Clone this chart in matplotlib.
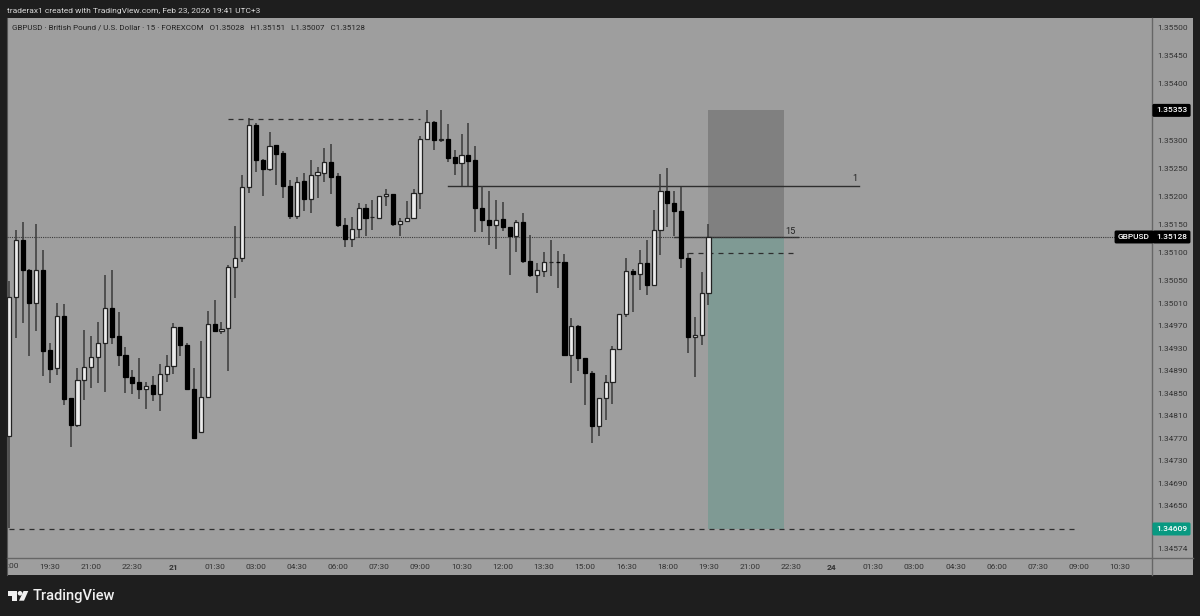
import matplotlib
matplotlib.use('Agg')
import matplotlib.pyplot as plt
from matplotlib.patches import Rectangle, Polygon, Circle

plt.rcParams['font.family'] = ['Roboto', 'DejaVu Sans']

# 15 minute candles
opens = [1.34774, 1.35022, 1.35123, 1.35069, 1.35010, 1.35069, 1.34927, 1.34895, 1.34987, 1.34841,
         1.34793, 1.34873, 1.34897, 1.34914, 1.34939, 1.35001, 1.34952, 1.34919, 1.34879, 1.34870,
         1.34858, 1.34865, 1.34849, 1.34885, 1.34898, 1.34968, 1.34936, 1.34857, 1.34781, 1.34843,
         1.34974, 1.34960, 1.34966, 1.35075, 1.35091, 1.35216, 1.35327, 1.35265, 1.35248, 1.35291,
         1.35277, 1.35219, 1.35166, 1.35227, 1.35195, 1.35239, 1.35242, 1.35261, 1.35236, 1.35150,
         1.35125, 1.35143, 1.35180, 1.35163, 1.35162, 1.35200, 1.35204, 1.35151, 1.35157, 1.35161,
         1.35206, 1.35302, 1.35333, 1.35301, 1.35302, 1.35270, 1.35260, 1.35274, 1.35264, 1.35179,
         1.35159, 1.35150, 1.35160, 1.35145, 1.35129, 1.35154, 1.35086, 1.35060, 1.35068, 1.35083,
         1.35084, 1.35083, 1.34918, 1.34970, 1.34912, 1.34887, 1.34792, 1.34841, 1.34870, 1.34929,
         1.34991, 1.35068, 1.35062, 1.35081, 1.35043, 1.35140, 1.35210, 1.35188, 1.35174, 1.35090,
         1.34950, 1.34954, 1.35028]
highs = [1.35050, 1.35140, 1.35154, 1.35071, 1.35151, 1.35104, 1.34939, 1.35011, 1.35008, 1.34841,
         1.34896, 1.34962, 1.34952, 1.34976, 1.35060, 1.35069, 1.34995, 1.34932, 1.34892, 1.34913,
         1.34870, 1.34881, 1.34902, 1.34918, 1.34975, 1.34968, 1.34939, 1.34895, 1.34943, 1.34996,
         1.35016, 1.34977, 1.35078, 1.35148, 1.35238, 1.35339, 1.35331, 1.35267, 1.35314, 1.35291,
         1.35281, 1.35229, 1.35234, 1.35242, 1.35264, 1.35252, 1.35286, 1.35293, 1.35241, 1.35161,
         1.35163, 1.35189, 1.35186, 1.35194, 1.35201, 1.35214, 1.35204, 1.35162, 1.35192, 1.35213,
         1.35308, 1.35354, 1.35334, 1.35354, 1.35329, 1.35283, 1.35311, 1.35330, 1.35290, 1.35219,
         1.35209, 1.35194, 1.35191, 1.35145, 1.35158, 1.35170, 1.35132, 1.35081, 1.35102, 1.35123,
         1.35103, 1.35098, 1.34984, 1.34972, 1.34912, 1.34889, 1.34841, 1.34882, 1.34935, 1.34991,
         1.35091, 1.35071, 1.35105, 1.35123, 1.35176, 1.35240, 1.35250, 1.35209, 1.35217, 1.35099,
         1.34985, 1.35065, 1.35151]
lows = [1.34611, 1.34949, 1.34975, 1.34917, 1.34961, 1.34881, 1.34868, 1.34883, 1.34830, 1.34754,
        1.34790, 1.34838, 1.34860, 1.34868, 1.34853, 1.34938, 1.34899, 1.34850, 1.34849, 1.34840,
        1.34822, 1.34837, 1.34819, 1.34871, 1.34885, 1.34917, 1.34857, 1.34771, 1.34781, 1.34843,
        1.34960, 1.34955, 1.34889, 1.35020, 1.35084, 1.35207, 1.35244, 1.35201, 1.35246, 1.35220,
        1.35198, 1.35160, 1.35160, 1.35174, 1.35171, 1.35198, 1.35226, 1.35204, 1.35145, 1.35111,
        1.35111, 1.35127, 1.35130, 1.35140, 1.35160, 1.35183, 1.35148, 1.35130, 1.35157, 1.35161,
        1.35178, 1.35302, 1.35283, 1.35297, 1.35262, 1.35239, 1.35218, 1.35218, 1.35137, 1.35137,
        1.35114, 1.35106, 1.35139, 1.35060, 1.35102, 1.35081, 1.35056, 1.35028, 1.35057, 1.35059,
        1.35038, 1.34918, 1.34868, 1.34889, 1.34829, 1.34761, 1.34774, 1.34803, 1.34831, 1.34929,
        1.34986, 1.34995, 1.35034, 1.35025, 1.35040, 1.35096, 1.35145, 1.35129, 1.35072, 1.34922,
        1.34880, 1.34936, 1.35007]
closes = [1.35022, 1.35123, 1.35069, 1.35010, 1.35069, 1.34926, 1.34894, 1.34987, 1.34840, 1.34793,
          1.34873, 1.34897, 1.34914, 1.34940, 1.35001, 1.34951, 1.34919, 1.34879, 1.34869, 1.34858,
          1.34864, 1.34849, 1.34885, 1.34898, 1.34968, 1.34936, 1.34857, 1.34771, 1.34843, 1.34974,
          1.34960, 1.34965, 1.35075, 1.35090, 1.35217, 1.35327, 1.35265, 1.35249, 1.35290, 1.35276,
          1.35219, 1.35166, 1.35226, 1.35195, 1.35239, 1.35243, 1.35261, 1.35235, 1.35149, 1.35125,
          1.35143, 1.35180, 1.35162, 1.35163, 1.35200, 1.35204, 1.35151, 1.35157, 1.35162, 1.35206,
          1.35302, 1.35333, 1.35301, 1.35302, 1.35268, 1.35260, 1.35274, 1.35263, 1.35179, 1.35158,
          1.35150, 1.35159, 1.35145, 1.35129, 1.35154, 1.35086, 1.35060, 1.35069, 1.35083, 1.35084,
          1.35083, 1.34918, 1.34969, 1.34912, 1.34886, 1.34792, 1.34841, 1.34870, 1.34929, 1.34991,
          1.35068, 1.35062, 1.35081, 1.35043, 1.35141, 1.35210, 1.35188, 1.35174, 1.35090, 1.34950,
          1.34954, 1.35029, 1.35128]

price_ticks = [1.35500, 1.35450, 1.35400, 1.35300, 1.35250, 1.35200, 1.35150, 1.35100, 1.35050,
               1.35010, 1.34970, 1.34930, 1.34890, 1.34850, 1.34810, 1.34770, 1.34730, 1.34690,
               1.34650, 1.34574]
time_labels = ['19:30', '21:00', '22:30', '21', '01:30', '03:00', '04:30', '06:00', '07:30',
               '09:00', '10:30', '12:00', '13:30', '15:00', '16:30', '18:00', '19:30', '21:00',
               '22:30', '24', '01:30', '03:00', '04:30', '06:00', '07:30', '09:00', '10:30']
time_ticks = [6 + 6 * k for k in range(len(time_labels))]

last_price = 1.35128
target_high = 1.35353
target_low = 1.34609
swing_high = 1.35338
level_one = 1.35218
level_two = 1.35100

BG = '#1e1e1e'
PANE = '#9e9e9e'
LINE = '#2e2e2e'
AXIS = '#666666'
TICK = '#333333'

fig = plt.figure(figsize=(12, 6.16), dpi=100, facecolor=BG)

# full canvas in pixels for the frame and branding
bg = fig.add_axes([0, 0, 1, 1])
bg.set_xlim(0, 1200)
bg.set_ylim(616, 0)
bg.axis('off')
bg.add_patch(Rectangle((7, 18), 1186, 557, fc=PANE, ec='none'))
bg.plot([7, 1193], [557.5, 557.5], color=AXIS, lw=1)
bg.plot([1152, 1152], [18, 575], color=AXIS, lw=1)
bg.plot([7, 7], [18, 575], color='#555555', lw=0.8)

bg.text(7, 10.5, 'traderax1 created with TradingView.com, Feb 23, 2026 19:41 UTC+3',
        color='#d8d8d8', fontsize=6.0, va='center', ha='left')
bg.text(12, 28, 'GBPUSD · British Pound / U.S. Dollar · 15 · FOREXCOM   O1.35028   H1.35151   L1.35007   C1.35128',
        color='#222222', fontsize=5.8, va='center', ha='left')

# logo
bg.add_patch(Polygon([(8, 591), (17.3, 591), (17.3, 600.7), (12, 600.7), (12, 595.5), (8, 595.5)], fc='#f0f0f0', ec='none'))
bg.add_patch(Circle((20, 593.3), 2.3, fc='#f0f0f0', ec='none'))
bg.add_patch(Polygon([(23.5, 591), (28.3, 591), (24, 600.7), (19, 600.7)], fc='#f0f0f0', ec='none'))
bg.text(33, 596.3, 'TradingView', color='#f0f0f0', fontsize=10.5, va='center', ha='left', fontweight='medium')

# price pane, x is the bar number
ax = fig.add_axes([7 / 1200, (616 - 557.5) / 616, 1145 / 1200, 539.5 / 616])
ax.patch.set_alpha(0)
ax.set_xlim(-0.27, 166.66)
ax.set_ylim(1.345583, 1.355172)
for s in ax.spines.values():
    s.set_visible(False)

# position box
ax.add_patch(Rectangle((102, last_price), 11, target_high - last_price, fc='#808080', ec='none', zorder=1))
ax.add_patch(Rectangle((102, target_low), 11, last_price - target_low, fc='#7f9a94', ec='none', zorder=1))

# drawn levels
ax.plot([32, 60.0], [swing_high, swing_high], color=LINE, lw=0.9, dashes=(4, 4), zorder=2)
ax.plot([64, 124], [level_one, level_one], color=LINE, lw=1, zorder=2)
ax.plot([97, 115], [last_price, last_price], color=LINE, lw=1, zorder=2)
ax.plot([99, 114.6], [level_two, level_two], color=LINE, lw=0.9, dashes=(4, 4), zorder=2)
ax.plot([0, 156], [target_low, target_low], color=LINE, lw=0.9, dashes=(4, 4), zorder=2)
ax.axhline(last_price, color='#3c3c3c', lw=0.8, ls=(0, (1, 1)), zorder=2)
ax.text(123.3, level_one + 0.00006, '1', color='#222222', fontsize=6.6, ha='center', va='bottom')
ax.text(113.9, last_price + 0.00002, '15', color='#222222', fontsize=6.6, ha='center', va='bottom')

# candles
for i in range(len(opens)):
    ax.vlines(i, lows[i], highs[i], color='#3a3a3a', lw=1.1, zorder=3)
    up = closes[i] >= opens[i]
    bottom = min(opens[i], closes[i])
    height = abs(closes[i] - opens[i])
    if up:
        ax.bar(i, height, 0.6, bottom=bottom, color='#ececec', edgecolor='#222222', linewidth=0.9, zorder=4)
    else:
        ax.bar(i, height, 0.6, bottom=bottom, color='#000000', edgecolor='#000000', linewidth=0.9, zorder=4)

# axes labels
ax.yaxis.tick_right()
ax.set_yticks(price_ticks)
ax.set_yticklabels(['%.5f' % p for p in price_ticks], color=TICK, fontsize=6.0)
ax.tick_params(axis='y', length=0, pad=4)
ax.set_xticks(time_ticks)
ax.set_xticklabels(time_labels, color=TICK, fontsize=6.0)
ax.tick_params(axis='x', length=0, pad=5)
for lab in ax.get_xticklabels():
    if lab.get_text() in ('21', '24'):
        lab.set_fontweight('bold')
ax.text(0.0052, -0.0165, ':00', transform=ax.transAxes, color=TICK, fontsize=6.0, ha='center', va='center')

# price tags on the scale
tr = ax.get_yaxis_transform()
def tag(x_px, price, txt, color):
    ax.text((x_px - 7) / 1145, price, txt, transform=tr, color='white', fontsize=6.0, fontweight='medium', ha='center', va='center',
            clip_on=False, zorder=6, bbox=dict(boxstyle='round,pad=0.42,rounding_size=0.2', fc=color, ec='none'))

tag(1171.5, target_high, '%.5f' % target_high, '#000000')
tag(1171.5, last_price, '%.5f' % last_price, '#000000')
tag(1171.5, target_low, '%.5f' % target_low, '#089981')
tag(1134, last_price, 'GBPUSD', '#000000')

fig.savefig('out.png', dpi=100, facecolor=BG)
